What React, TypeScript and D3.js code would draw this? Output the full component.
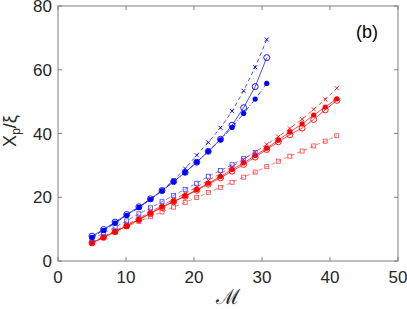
import React, { useRef, useEffect } from 'react';
import * as d3 from 'd3';

// M values (shared grid)
const mBlue = [5.0, 6.7, 8.4, 10.1, 11.9, 13.6, 15.3, 17.0, 18.7, 20.4, 22.1, 23.9, 25.6, 27.3, 29.0, 30.7];
const mRed = [5.0, 6.7, 8.4, 10.1, 11.9, 13.6, 15.3, 17.0, 18.7, 20.4, 22.1, 23.9, 25.6, 27.3, 29.0, 30.7, 32.4, 34.1, 35.9, 37.6, 39.3, 41.0];

const blueCross = [7.6, 9.7, 12.0, 14.4, 16.8, 19.4, 22.1, 25.4, 29.0, 33.2, 37.2, 41.8, 47.0, 53.4, 60.8, 69.5];
const blueOpen = [7.8, 9.9, 12.2, 14.6, 17.0, 19.5, 22.1, 24.9, 27.8, 31.0, 34.4, 38.2, 42.6, 48.1, 54.7, 63.8];
const blueFilled = [7.4, 9.6, 11.9, 14.3, 16.8, 19.3, 22.0, 24.9, 27.8, 31.0, 34.4, 38.0, 41.9, 46.3, 50.8, 55.7];
const blueSquare = [7.0, 8.7, 10.6, 12.6, 14.8, 16.7, 18.6, 20.6, 22.5, 24.4, 26.6, 28.4, 30.2, 32.2, 34.0];

const redCross = [6.0, 7.7, 9.5, 11.4, 13.4, 15.4, 17.4, 19.3, 21.2, 23.2, 25.3, 27.4, 29.6, 31.9, 34.2, 36.6, 39.0, 41.6, 44.5, 47.6, 50.7, 54.2];
const redOpen = [5.7, 7.4, 9.2, 11.0, 13.0, 14.9, 16.8, 18.6, 20.3, 22.2, 24.1, 26.1, 28.2, 30.3, 32.6, 35.0, 37.4, 39.6, 41.7, 44.4, 47.4, 50.4];
const redFilled = [5.7, 7.4, 9.2, 11.0, 13.0, 15.0, 17.0, 18.7, 20.4, 22.4, 24.4, 26.5, 28.7, 30.8, 33.1, 35.4, 37.9, 40.5, 43.0, 45.8, 48.3, 50.9];
const redSquare = [5.6, 7.4, 9.1, 10.8, 12.4, 13.9, 15.4, 16.9, 18.4, 19.9, 21.5, 23.1, 24.7, 26.3, 27.9, 29.6, 31.3, 32.9, 34.5, 36.1, 37.6, 39.3];

const xTicks = [0, 10, 20, 30, 40, 50];
const yTicks = [0, 20, 40, 60, 80];

type Marker = 'x' | 'o' | 'dot' | 's';

const App: React.FC = () => {
  const svgRef = useRef<SVGSVGElement | null>(null);

  useEffect(() => {
    const svg = d3.select(svgRef.current);
    svg.selectAll('*').remove();

    const margin = { top: 6, left: 58, right: 9, bottom: 48 };
    const width = 407;
    const height = 309;
    const w = width - margin.left - margin.right;
    const h = height - margin.top - margin.bottom;

    const x = d3.scaleLinear().domain([0, 50]).range([0, w]);
    const y = d3.scaleLinear().domain([0, 80]).range([h, 0]);

    const g = svg.append('g').attr('transform', `translate(${margin.left},${margin.top})`);

    const series: { m: number[]; v: number[]; color: string; marker: Marker; dash: string | null }[] = [
      { m: mRed, v: redSquare, color: '#ff4040', marker: 's', dash: '4,3' },
      { m: mRed, v: redOpen, color: '#ff0000', marker: 'o', dash: null },
      { m: mRed, v: redFilled, color: '#ff0000', marker: 'dot', dash: null },
      { m: mRed, v: redCross, color: '#ff0000', marker: 'x', dash: '4,3' },
      { m: mBlue, v: blueSquare, color: '#4040ff', marker: 's', dash: '4,3' },
      { m: mBlue, v: blueOpen, color: '#0000ff', marker: 'o', dash: null },
      { m: mBlue, v: blueFilled, color: '#0000ff', marker: 'dot', dash: '5,2,1,2' },
      { m: mBlue, v: blueCross, color: '#0000ff', marker: 'x', dash: '4,3' },
    ];

    const line = d3.line<[number, number]>().x(d => x(d[0])).y(d => y(d[1]));

    series.forEach(s => {
      const pts: [number, number][] = s.v.map((v, i) => [s.m[i], v]);
      g.append('path')
        .attr('d', line(pts))
        .attr('fill', 'none')
        .attr('stroke', s.color)
        .attr('stroke-width', 0.7)
        .attr('stroke-dasharray', s.dash);
      const mk = g.append('g');
      pts.forEach(p => {
        const cx = x(p[0]);
        const cy = y(p[1]);
        if (s.marker === 'x') {
          const r = 2;
          mk.append('path')
            .attr('d', `M${cx - r},${cy - r}L${cx + r},${cy + r}M${cx - r},${cy + r}L${cx + r},${cy - r}`)
            .attr('stroke', s.color).attr('stroke-width', 0.9);
        } else if (s.marker === 'o') {
          mk.append('circle').attr('cx', cx).attr('cy', cy).attr('r', 3)
            .attr('fill', 'none').attr('stroke', s.color).attr('stroke-width', 0.9);
        } else if (s.marker === 'dot') {
          mk.append('circle').attr('cx', cx).attr('cy', cy).attr('r', 2.6)
            .attr('fill', s.color);
        } else {
          mk.append('rect').attr('x', cx - 2).attr('y', cy - 2).attr('width', 4).attr('height', 4)
            .attr('fill', 'none').attr('stroke', s.color).attr('stroke-width', 0.8);
        }
      });
    });

    const axisColor = '#808080';
    const textColor = '#262626';

    // box
    g.append('rect').attr('width', w).attr('height', h)
      .attr('fill', 'none').attr('stroke', axisColor).attr('stroke-width', 1);

    // ticks
    xTicks.forEach(t => {
      g.append('line').attr('x1', x(t)).attr('x2', x(t)).attr('y1', h).attr('y2', h - 4).attr('stroke', axisColor);
      g.append('line').attr('x1', x(t)).attr('x2', x(t)).attr('y1', 0).attr('y2', 4).attr('stroke', axisColor);
      g.append('text').attr('x', x(t)).attr('y', h + 22)
        .attr('text-anchor', 'middle').attr('fill', textColor)
        .attr('font-family', 'Liberation Sans, Arial, sans-serif').attr('font-size', 17)
        .text(t);
    });
    yTicks.forEach(t => {
      g.append('line').attr('x1', 0).attr('x2', 4).attr('y1', y(t)).attr('y2', y(t)).attr('stroke', axisColor);
      g.append('line').attr('x1', w).attr('x2', w - 4).attr('y1', y(t)).attr('y2', y(t)).attr('stroke', axisColor);
      g.append('text').attr('x', -6).attr('y', y(t) + 6)
        .attr('text-anchor', 'end').attr('fill', textColor)
        .attr('font-family', 'Liberation Sans, Arial, sans-serif').attr('font-size', 17)
        .text(t);
    });

    // x label
    svg.append('text').attr('x', margin.left + w / 2).attr('y', 304)
      .attr('text-anchor', 'middle').attr('fill', textColor)
      .attr('font-family', 'DejaVu Serif, serif').attr('font-size', 21)
      .text('ℳ');

    // y label
    const yl = svg.append('text')
      .attr('transform', `translate(16,${margin.top + 125}) rotate(-90)`)
      .attr('text-anchor', 'middle').attr('fill', textColor)
      .attr('font-family', 'Liberation Sans, Arial, sans-serif').attr('font-size', 18);
    yl.append('tspan').text('X');
    yl.append('tspan').attr('font-size', 12).attr('dy', 4).text('p');
    yl.append('tspan').attr('dy', -4).text('/ξ');

    // panel label
    svg.append('text').attr('x', 367).attr('y', 38)
      .attr('text-anchor', 'middle').attr('fill', '#000')
      .attr('font-family', 'Liberation Sans, Arial, sans-serif').attr('font-size', 18)
      .text('(b)');
  }, []);

  return <svg ref={svgRef} width={407} height={309} style={{ position: 'absolute', left: 0, top: 0 }} />;
};

export default App;
